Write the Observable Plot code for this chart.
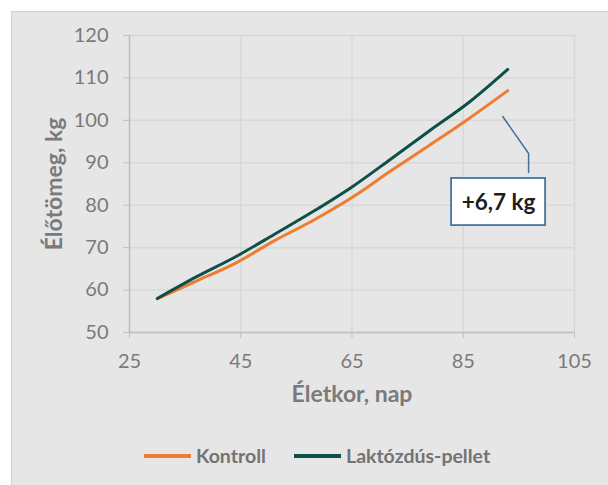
<!DOCTYPE html>
<html>
<head>
<meta charset="utf-8">
<script src="https://cdn.jsdelivr.net/npm/d3@7"></script>
<script src="https://cdn.jsdelivr.net/npm/@observablehq/plot@0.6"></script>
<style>
  html, body { margin: 0; padding: 0; background: #ffffff; }
  #wrap { position: relative; width: 608px; height: 485px; overflow: hidden; font-family: Lato, "Open Sans", sans-serif; }
  #panel { position: absolute; left: 11px; top: 11px; width: 600px; height: 480px; background: #e7e6e6; border-left: 1px solid #d2d2d2; border-top: 1px solid #d2d2d2; }
  #chart { position: absolute; left: 0; top: 0; }
  #legend { position: absolute; left: 0; top: 430px; width: 608px; height: 55px; }
  .item { position: absolute; top: 14px; display: flex; align-items: center; font-weight: bold; font-size: 19.5px; color: #737373; }
  .swatch { width: 47px; height: 4px; margin-right: 5px; }
</style>
</head>
<body>
<div id="wrap">
  <div id="panel"></div>
  <div id="chart"></div>
  <div id="legend"></div>
</div>
<script>
// ---- data ----
const ages = [30, 37, 44, 51, 58, 65, 72, 79, 86, 93];
const kontroll = [58, 62.1, 66.3, 71.6, 76.4, 81.8, 88.1, 94.2, 100.4, 107];
const laktoz = [58, 63.1, 67.8, 73.1, 78.5, 84.3, 90.9, 97.6, 104.2, 112];
const seriesNames = ["Kontroll", "Laktózdús-pellet"];
const seriesColors = ["#ed7d31", "#0e4f47"];
const xTicks = [25, 45, 65, 85, 105];
const yTicks = [50, 60, 70, 80, 90, 100, 110, 120];
const xTitle = "Életkor, nap";
const yTitle = "Élőtömeg, kg";
const calloutText = "+6,7 kg";
const calloutLeader = [[92.1, 100.9], [96.75, 92.2], [96.75, 87.7]];
const calloutBox = [{x1: 82.9, x2: 99.8, y1: 75.2, y2: 86.3}];
const calloutAnchor = [{x: 91.35, y: 80.5}];

const kData = ages.map((a, i) => ({age: a, w: kontroll[i]}));
const lData = ages.map((a, i) => ({age: a, w: laktoz[i]}));

const axisColor = "#bfbfbf";
const textColor = "#7a7a7a";

const chart = Plot.plot({
  width: 608,
  height: 430,
  marginLeft: 129,
  marginRight: 34,
  marginTop: 35,
  marginBottom: 98,
  x: {domain: [25, 105]},
  y: {domain: [50, 120]},
  style: {background: "transparent", fontFamily: "Lato, 'Open Sans', sans-serif", fontSize: "20px", overflow: "visible"},
  marks: [
    Plot.gridX(xTicks, {stroke: "#d8d8d8", strokeOpacity: 1, strokeWidth: 1.5}),
    Plot.gridY(yTicks, {stroke: "#d8d8d8", strokeOpacity: 1, strokeWidth: 1.5}),
    Plot.axisX(xTicks, {tickSize: 6, tickPadding: 15, stroke: axisColor, fill: textColor, label: null, fontSize: 20, tickFormat: d => String(d)}),
    Plot.axisY(yTicks, {tickSize: 6, tickPadding: 15, stroke: axisColor, fill: textColor, label: null, fontSize: 20, tickFormat: d => String(d)}),
    Plot.ruleX([25], {stroke: axisColor, strokeWidth: 1.5}),
    Plot.ruleY([50], {stroke: axisColor, strokeWidth: 1.5}),
    Plot.line(kData, {x: "age", y: "w", stroke: seriesColors[0], strokeWidth: 3, curve: "catmull-rom"}),
    Plot.line(lData, {x: "age", y: "w", stroke: seriesColors[1], strokeWidth: 3, curve: "catmull-rom"}),
    Plot.line(calloutLeader, {x: d => d[0], y: d => d[1], stroke: "#41719c", strokeWidth: 1.5}),
    Plot.rect(calloutBox, {x1: "x1", x2: "x2", y1: "y1", y2: "y2", fill: "#ffffff", stroke: "#41719c", strokeWidth: 1.75}),
    Plot.text(calloutAnchor, {x: "x", y: "y", text: () => calloutText, fontSize: 22.5, fontWeight: "bold", fill: "#1e1e1e"}),
    Plot.text([yTitle], {frameAnchor: "left", dx: -75, rotate: -90, textAnchor: "middle", lineAnchor: "middle", fontSize: 23, fontWeight: "bold", fill: textColor}),
    Plot.text([xTitle], {frameAnchor: "bottom", dy: 62, textAnchor: "middle", lineAnchor: "middle", fontSize: 23, fontWeight: "bold", fill: textColor})
  ]
});
document.getElementById("chart").appendChild(chart);

// legend
const legend = document.getElementById("legend");
const lefts = [144, 294];
seriesNames.forEach((name, i) => {
  const item = document.createElement("div");
  item.className = "item";
  item.style.left = lefts[i] + "px";
  const sw = document.createElement("div");
  sw.className = "swatch";
  sw.style.background = seriesColors[i];
  const tx = document.createElement("span");
  tx.textContent = name;
  item.appendChild(sw);
  item.appendChild(tx);
  legend.appendChild(item);
});
</script>
</body>
</html>
